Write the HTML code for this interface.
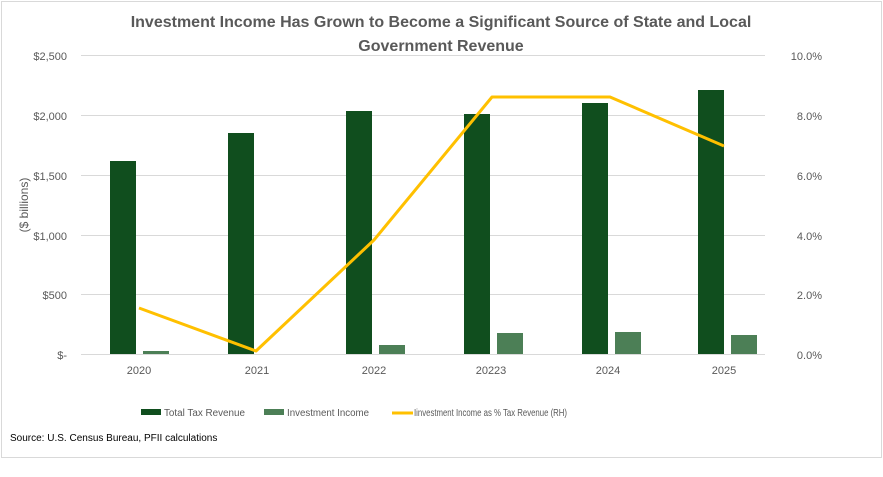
<!DOCTYPE html>
<html><head><style>
body{margin:0;background:#fff;width:883px;height:472px;overflow:hidden}
svg text{font-family:"Liberation Sans",sans-serif}
</style></head><body>
<svg width="883" height="472" xmlns="http://www.w3.org/2000/svg">
<rect x="1.5" y="1.5" width="880" height="456" fill="#fff" stroke="#d9d9d9"/>
<text x="441" y="27" text-anchor="middle" font-size="16" font-weight="bold" fill="#595959">Investment Income Has Grown to Become a Significant Source of State and Local</text>
<text x="441" y="51" text-anchor="middle" font-size="16" font-weight="bold" fill="#595959">Government Revenue</text>
<g stroke="#d9d9d9" stroke-width="1">
<line x1="81" x2="765" y1="55.5" y2="55.5"/><line x1="81" x2="765" y1="115.5" y2="115.5"/>
<line x1="81" x2="765" y1="175.5" y2="175.5"/><line x1="81" x2="765" y1="235.5" y2="235.5"/>
<line x1="81" x2="765" y1="294.5" y2="294.5"/><line x1="81" x2="765" y1="354.5" y2="354.5"/>
</g>
<g font-size="11" fill="#595959" text-anchor="end">
<text x="67" y="60">$2,500</text><text x="67" y="120">$2,000</text><text x="67" y="180">$1,500</text>
<text x="67" y="240">$1,000</text><text x="67" y="299">$500</text><text x="67" y="359">$-</text>
</g>
<g font-size="11" fill="#595959" text-anchor="end">
<text x="822" y="60">10.0%</text><text x="822" y="120">8.0%</text><text x="822" y="180">6.0%</text>
<text x="822" y="240">4.0%</text><text x="822" y="299">2.0%</text><text x="822" y="359">0.0%</text>
</g>
<text transform="translate(28,205) rotate(-90)" text-anchor="middle" font-size="12" fill="#595959">($ billions)</text>
<g fill="#104e1e">
<rect x="110" y="161" width="26" height="193"/><rect x="228" y="133" width="26" height="221"/>
<rect x="346" y="111" width="26" height="243"/><rect x="464" y="114" width="26" height="240"/>
<rect x="582" y="103" width="26" height="251"/><rect x="698" y="90" width="26" height="264"/>
</g>
<g fill="#4c7f56">
<rect x="143" y="351" width="26" height="3"/><rect x="379" y="345" width="26" height="9"/>
<rect x="497" y="333" width="26" height="21"/><rect x="615" y="332" width="26" height="22"/>
<rect x="731" y="335" width="26" height="19"/>
</g>
<polyline points="139,308 256,351 374,240 492,97 610,97 724,146" fill="none" stroke="#ffc000" stroke-width="3" stroke-linejoin="round"/>
<g font-size="11" fill="#595959" text-anchor="middle">
<text x="139" y="374">2020</text><text x="257" y="374">2021</text><text x="374" y="374">2022</text>
<text x="491" y="374">20223</text><text x="608" y="374">2024</text><text x="724" y="374">2025</text>
</g>
<rect x="141" y="409" width="20" height="6" fill="#104e1e"/>
<text x="164" y="416" font-size="10" fill="#595959" textLength="81" lengthAdjust="spacingAndGlyphs">Total Tax Revenue</text>
<rect x="264" y="409" width="20" height="6" fill="#4c7f56"/>
<text x="287" y="416" font-size="10" fill="#595959" textLength="82" lengthAdjust="spacingAndGlyphs">Investment Income</text>
<line x1="392" x2="413" y1="413" y2="413" stroke="#ffc000" stroke-width="3"/>
<text x="414" y="416" font-size="10" fill="#595959" textLength="153" lengthAdjust="spacingAndGlyphs">Iinvestment Income as % Tax Revenue (RH)</text>
<text x="10" y="441" font-size="10" fill="#000">Source: U.S. Census Bureau, PFII calculations</text>
</svg>
</body></html>
